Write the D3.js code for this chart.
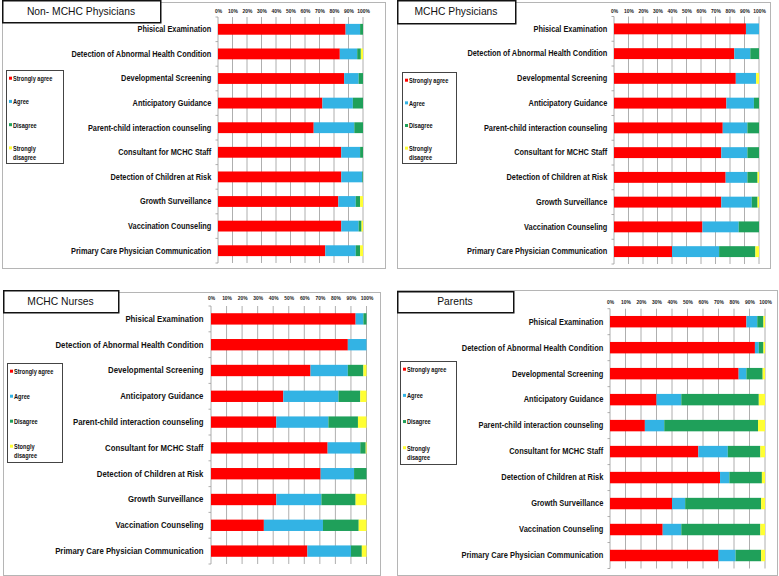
<!DOCTYPE html>
<html><head><meta charset="utf-8">
<script src="https://cdn.jsdelivr.net/npm/d3@7"></script>
<style>body{margin:0;background:#fff}svg{display:block}</style>
</head><body>
<svg id="c" width="779" height="576"></svg>
<script>
const categories = ["Phisical Examination","Detection of Abnormal Health Condition","Developmental Screening","Anticipatory Guidance","Parent-child interaction counseling","Consultant for MCHC Staff","Detection of Children at Risk","Growth Surveillance","Vaccination Counseling","Primary Care Physician Communication"];
const seriesNames = ["Strongly agree","Agree","Disagree","Strongly disagree"];
const tickValues = [0,10,20,30,40,50,60,70,80,90,100];
const panelTitles = ["Non- MCHC Physicians","MCHC Physicians","MCHC Nurses","Parents"];
const legendLabelsDefault = ["Strongly agree","Agree","Disagree","Strongly|disagree"];
const legendLabelsNurses = ["Strongly agree","Agree","Disagree","Stongly|disagree"];

// Non-MCHC Physicians
const nonMchcStronglyAgree = [88,84,87,72,66,85,85,83,85,74];
const nonMchcAgree         = [10,12,10,21,28,13,14.5,12,12,21];
const nonMchcDisagree      = [2,2.5,3,7,6,2,0.5,3,2,3];
const nonMchcStronglyDis   = [0,1.5,0,0,0,0,0,2,1,2];
// MCHC Physicians
const mchcPhysStronglyAgree = [91,83,84,77.5,75,74,77,74,61,40];
const mchcPhysAgree         = [9,11,14,19,17,18,15,21,25,32.5];
const mchcPhysDisagree      = [0,6,0,3.5,8,8,7,4,14,25];
const mchcPhysStronglyDis   = [0,0,2,0,0,0,1,1,0,2.5];
// MCHC Nurses
const nursesStronglyAgree = [93,88,64,46.5,42,75,70.5,42,34,62];
const nursesAgree         = [5,12,24,35.5,33.5,21,21.5,29,38,28];
const nursesDisagree      = [2,0,10,14,19,3.5,8,22,23,7];
const nursesStronglyDis   = [0,0,2,4,5.5,0.5,0,7,5,3];
// Parents
const parentsStronglyAgree = [88,93.5,83,30,22.5,57,71,40,34,70];
const parentsAgree         = [7,2.5,5,16,12.5,19,6,8.5,12,11];
const parentsDisagree      = [4,3,10.5,50,60.5,21,21,49,51,16.5];
const parentsStronglyDis   = [1,1,1.5,4,4.5,3,2,2.5,3,2.5];

const colors = ["#ff0000","#33b3e4","#1fa05a","#ffff33"];

const panelSeries = [
  [nonMchcStronglyAgree,nonMchcAgree,nonMchcDisagree,nonMchcStronglyDis],
  [mchcPhysStronglyAgree,mchcPhysAgree,mchcPhysDisagree,mchcPhysStronglyDis],
  [nursesStronglyAgree,nursesAgree,nursesDisagree,nursesStronglyDis],
  [parentsStronglyAgree,parentsAgree,parentsDisagree,parentsStronglyDis]
];
const panelLegendLabels = [legendLabelsDefault,legendLabelsDefault,legendLabelsNurses,legendLabelsDefault];

// layout
const layouts = [
  {bx:2,by:2,bw:383,bh:266, tx:2,ty:0,tw:158,th:22, px0:218,px1:363,py0:17,py1:263, tickY:11, lx:6,ly:70,lw:57,lh:93, fs:8.8, pad:8},
  {bx:397,by:2,bw:373,bh:266, tx:397,ty:0,tw:118,th:23, px0:614,px1:759,py0:16.5,py1:264, tickY:11, lx:402,ly:72,lw:54,lh:91, fs:8.8, pad:8},
  {bx:3,by:292,bw:377,bh:283, tx:3,ty:290,tw:115,th:22, px0:211,px1:366.5,py0:306,py1:564, tickY:298, lx:7,ly:363,lw:55,lh:99, fs:9.3, pad:9},
  {bx:397,by:290,bw:380,bh:285, tx:397,ty:291,tw:116,th:21, px0:610,px1:765,py0:308.7,py1:568.5, tickY:302, lx:400,ly:361,lw:56,lh:103, fs:8.9, pad:8}
];

const svg = d3.select("#c");
svg.append("rect").attr("width",779).attr("height",576).attr("fill","#fff");
const sans = "'Liberation Sans',Arial,sans-serif";

panelTitles.forEach((title, pi) => {
  const L = layouts[pi];
  const g = svg.append("g");
  g.append("rect").attr("x",L.bx+0.5).attr("y",L.by+0.5).attr("width",L.bw).attr("height",L.bh)
    .attr("fill","#fff").attr("stroke","#b5b5b5").attr("stroke-width",1);

  const rows = categories.map((c,i)=>{ const o={cat:c}; seriesNames.forEach((s,k)=>o[s]=panelSeries[pi][k][i]); return o; });
  const stack = d3.stack().keys(seriesNames)(rows);

  const x = d3.scaleLinear().domain([0,100]).range([L.px0,L.px1]);
  const y = d3.scaleBand().domain(categories).range([L.py0,L.py1]).paddingInner(0.56).paddingOuter(0.28);

  g.append("g").selectAll("line").data(tickValues).join("line")
    .attr("x1",d=>x(d)).attr("x2",d=>x(d)).attr("y1",L.py0).attr("y2",L.py1)
    .attr("stroke","#9a9a9a").attr("stroke-width",0.8);

  const bounds = d3.range(categories.length+1).map(i=>L.py0 + (L.py1-L.py0)*i/categories.length);
  g.append("g").selectAll("line").data(bounds).join("line")
    .attr("x1",L.px0-2.5).attr("x2",L.px0).attr("y1",d=>d).attr("y2",d=>d)
    .attr("stroke","#9a9a9a").attr("stroke-width",0.8);

  const xAxis = d3.axisTop(x).tickValues(tickValues).tickFormat(d=>d+"%").tickSize(0).tickPadding(0);
  const ax = g.append("g").attr("transform",`translate(0,${L.tickY})`).call(xAxis);
  ax.select(".domain").remove();
  ax.selectAll("text").attr("font-family",sans).attr("font-size",5.8).attr("font-weight","bold").attr("fill","#222")
    .attr("dy","0.35em").attr("transform","scale(0.85,1)");

  g.append("g").selectAll("g").data(stack).join("g").attr("fill",(d,i)=>colors[i])
    .selectAll("rect").data(d=>d).join("rect")
    .attr("x",d=>x(d[0])).attr("width",d=>Math.max(0,x(d[1])-x(d[0])))
    .attr("y",d=>y(d.data.cat)).attr("height",y.bandwidth());

  const yAxis = d3.axisLeft(y).tickSize(0).tickPadding(L.pad);
  const ay = g.append("g").attr("transform",`translate(${L.px0},0)`).call(yAxis);
  ay.select(".domain").remove();
  ay.selectAll("text").attr("font-family",sans).attr("font-size",L.fs).attr("font-weight","bold").attr("fill","#111")
    .attr("transform","scale(0.84,1)");

  g.append("rect").attr("x",L.tx+0.75).attr("y",L.ty+0.75).attr("width",L.tw).attr("height",L.th)
    .attr("fill","#fff").attr("stroke","#111").attr("stroke-width",1.5);
  g.append("text").attr("x",L.tx+L.tw/2).attr("y",L.ty+L.th/2+1).attr("text-anchor","middle")
    .attr("dominant-baseline","middle").attr("font-family",sans)
    .attr("font-size",10.3).attr("fill","#111").text(title);

  g.append("rect").attr("x",L.lx+0.5).attr("y",L.ly+0.5).attr("width",L.lw).attr("height",L.lh)
    .attr("fill","#fff").attr("stroke","#444").attr("stroke-width",1);
  const lstep = (L.lh-14)/3.4;
  panelLegendLabels[pi].forEach((lab,k)=>{
    const yy = L.ly + 9 + k*lstep;
    g.append("rect").attr("x",L.lx+3).attr("y",yy-2.3).attr("width",3).attr("height",3).attr("fill",colors[k]);
    const lx = L.lx+7;
    const t = g.append("text").attr("transform",`translate(${lx},${yy}) scale(0.88,1)`).attr("dominant-baseline","middle")
      .attr("font-family",sans).attr("font-size",6.4).attr("font-weight","bold").attr("fill","#111");
    lab.split("|").forEach((part,j)=>{
      t.append("tspan").attr("x",0).attr("dy",j===0?0:9).text(part);
    });
  });
});
</script>
</body></html>
